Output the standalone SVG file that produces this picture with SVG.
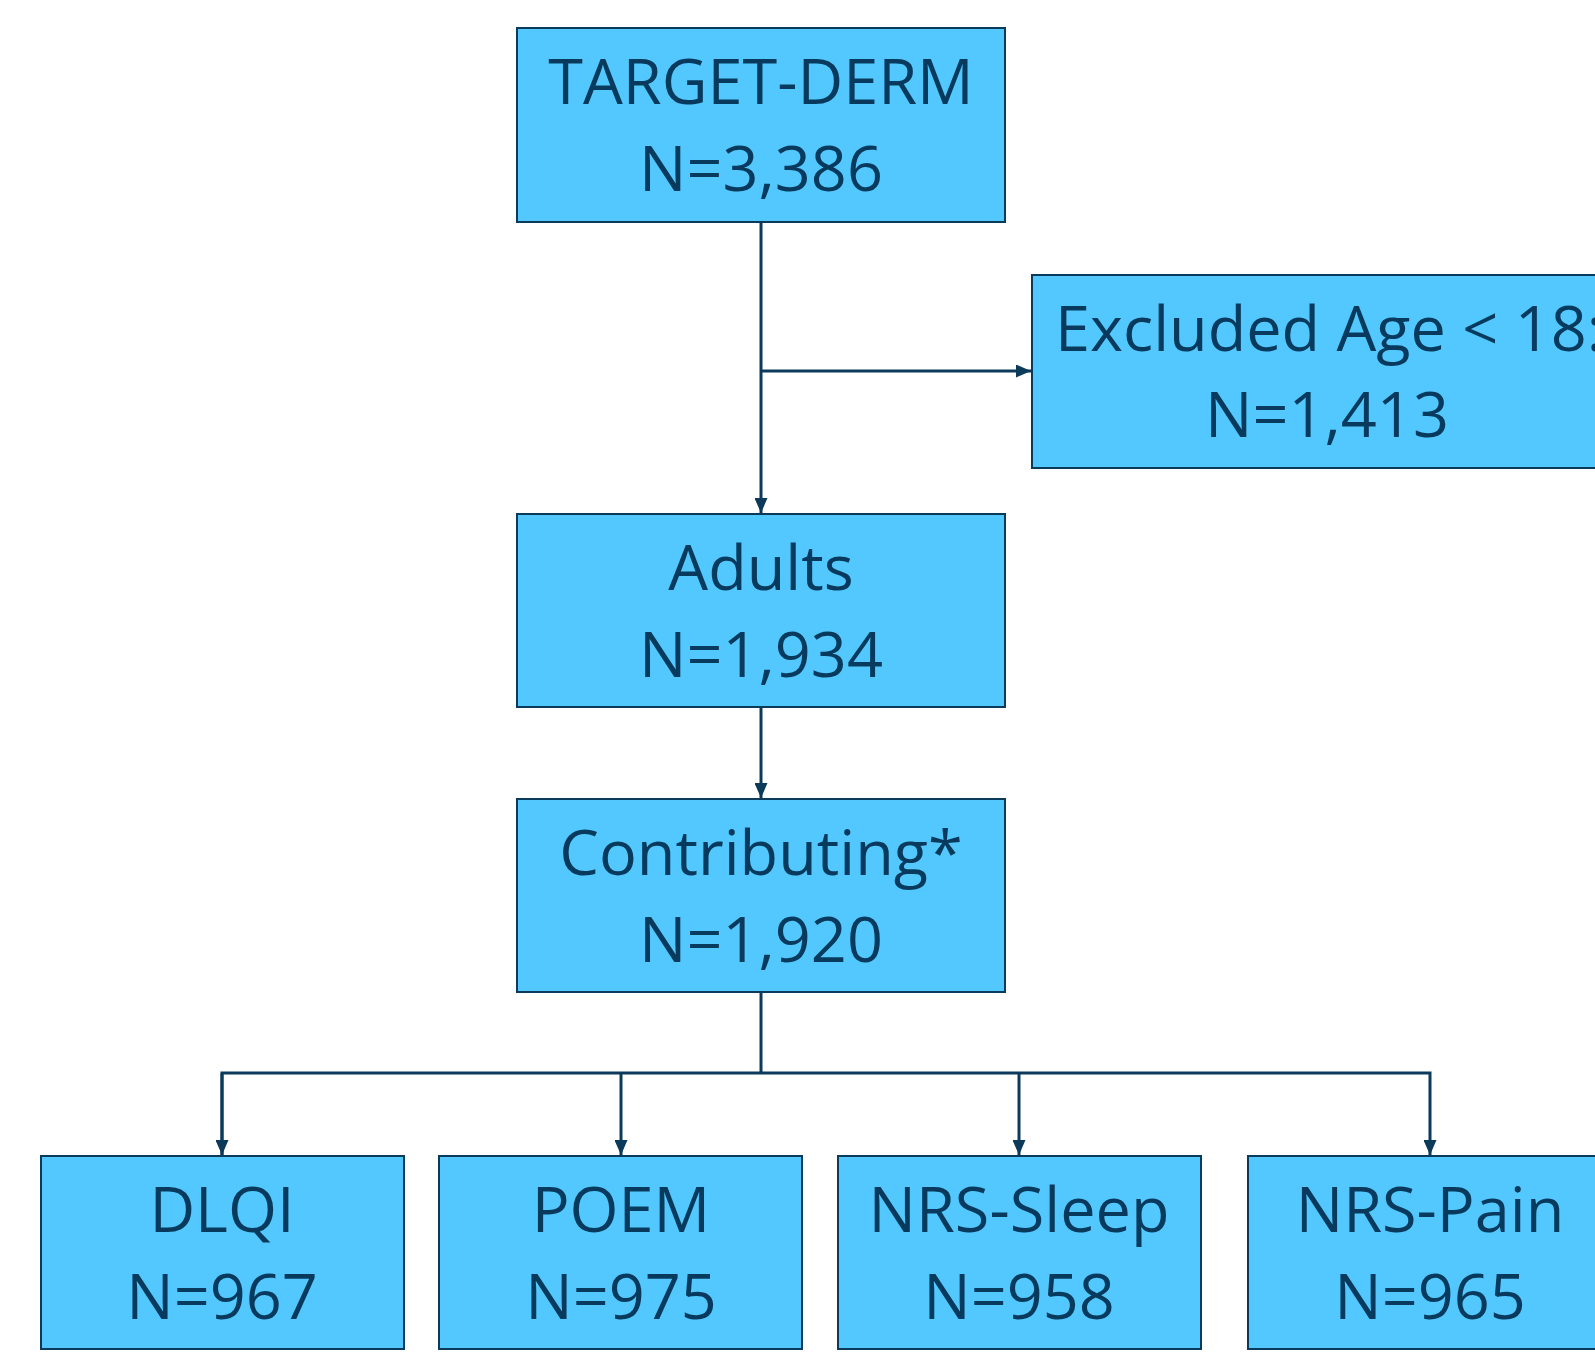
<svg xmlns="http://www.w3.org/2000/svg" width="1595" height="1354" viewBox="0 0 1595 1354">
<defs>
<style>
.box{fill:#53C8FE;stroke:#0B3A5A;stroke-width:2}
.t{font-family:"Open Sans","Noto Sans","DejaVu Sans",sans-serif;font-size:63px;fill:#073A5C;text-anchor:middle}
.c{fill:none;stroke:#0B3A5A;stroke-width:3}
</style>
<marker id="ah" viewBox="0 0 15 13" refX="15" refY="6.5" markerWidth="15" markerHeight="13" markerUnits="userSpaceOnUse" orient="auto">
<path d="M0,0 L15,6.5 L0,13 Z" fill="#0B3A5A"/>
</marker>
</defs>
<rect width="1595" height="1354" fill="#fff"/>
<g id="connectors">
<path class="c" d="M761,222 V513" marker-end="url(#ah)"/>
<path class="c" d="M761,371 H1031" marker-end="url(#ah)"/>
<path class="c" d="M761,707 V798" marker-end="url(#ah)"/>
<path class="c" d="M761,992 V1073"/>
<path class="c" d="M222,1155 V1073 H1430 V1155" marker-end="url(#ah)"/>
<path class="c" d="M621,1073 V1155" marker-end="url(#ah)"/>
<path class="c" d="M1019,1073 V1155" marker-end="url(#ah)"/>
<path class="c" d="M222,1073 V1155" marker-end="url(#ah)"/>
</g>
<g id="n-target">
<rect class="box" x="517" y="28" width="488" height="194"/>
<text class="t" x="761" y="104">TARGET-DERM</text>
<text class="t" x="761" y="191">N=3,386</text>
</g>
<g id="n-excluded">
<rect class="box" x="1032" y="275" width="600" height="193"/>
<text class="t" x="1055" y="351" style="text-anchor:start">Excluded Age &lt; 18:</text>
<text class="t" x="1327" y="437">N=1,413</text>
</g>
<g id="n-adults">
<rect class="box" x="517" y="514" width="488" height="193"/>
<text class="t" x="761" y="590">Adults</text>
<text class="t" x="761" y="677">N=1,934</text>
</g>
<g id="n-contributing">
<rect class="box" x="517" y="799" width="488" height="193"/>
<text class="t" x="761" y="875">Contributing*</text>
<text class="t" x="761" y="962">N=1,920</text>
</g>
<g id="n-dlqi">
<rect class="box" x="41" y="1156" width="363" height="193"/>
<text class="t" x="222" y="1232">DLQI</text>
<text class="t" x="222" y="1319">N=967</text>
</g>
<g id="n-poem">
<rect class="box" x="439" y="1156" width="363" height="193"/>
<text class="t" x="621" y="1232">POEM</text>
<text class="t" x="621" y="1319">N=975</text>
</g>
<g id="n-sleep">
<rect class="box" x="838" y="1156" width="363" height="193"/>
<text class="t" x="1019" y="1232">NRS-Sleep</text>
<text class="t" x="1019" y="1319">N=958</text>
</g>
<g id="n-pain">
<rect class="box" x="1248" y="1156" width="364" height="193"/>
<text class="t" x="1430" y="1232">NRS-Pain</text>
<text class="t" x="1430" y="1319">N=965</text>
</g>
</svg>
